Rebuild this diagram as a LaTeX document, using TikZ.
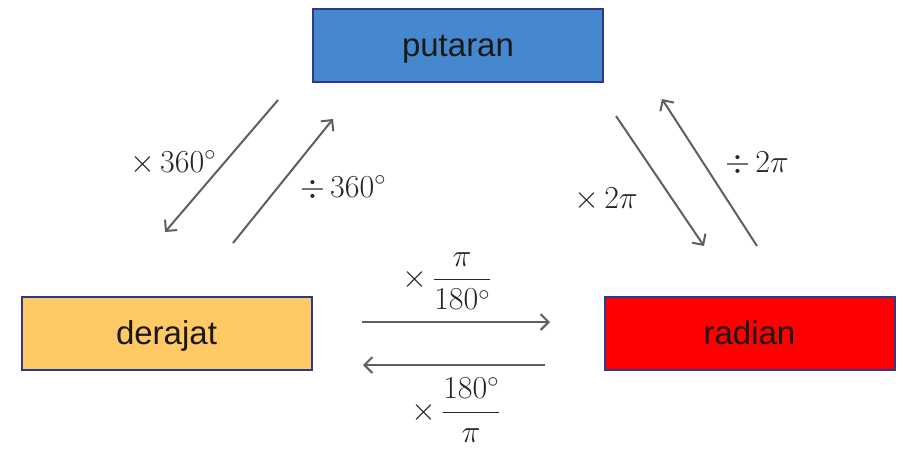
\RequirePackage{fix-cm}
\documentclass[tikz,border=0pt]{standalone}
\usepackage{amsmath}
\usepackage{fontspec}
\setsansfont{Liberation Sans}
\usetikzlibrary{arrows.meta}
\definecolor{boxline}{HTML}{2E3A87}
\definecolor{blueF}{HTML}{4688CD}
\definecolor{yellowF}{HTML}{FFC965}
\definecolor{redF}{HTML}{FF0000}
\definecolor{arrowC}{HTML}{5F5F5F}
\tikzset{
  unitbox/.style={draw=boxline, line width=2pt, minimum width=290pt, minimum height=73pt,
    inner sep=0pt, text height=23pt, text depth=0pt,
    font=\sffamily\fontsize{33}{38}\selectfont, text=black!90},
  conv/.style={draw=arrowC, line width=2pt, -{Straight Barb[length=8pt,width=16pt,line width=2pt]}},
  lbl/.style={inner sep=0pt, font=\fontsize{32}{38}\selectfont, text=black!85}
}
\begin{document}
\begin{tikzpicture}[x=1pt,y=-1pt]
\useasboundingbox (0,0) rectangle (903,448);
% boxes
\node[unitbox, fill=blueF] (put) at (458,45) {putaran};
\node[unitbox, fill=yellowF] (der) at (166.5,333) {derajat};
\node[unitbox, fill=redF] (rad) at (749.5,333) {radian};
% arrow endpoints
\coordinate (a1s) at (278,100); \coordinate (a1e) at (165,232);
\coordinate (a2s) at (233,243); \coordinate (a2e) at (333,119);
\coordinate (a3s) at (616,116); \coordinate (a3e) at (704,246);
\coordinate (a4s) at (757,246); \coordinate (a4e) at (662,99);
\coordinate (a5s) at (362,322); \coordinate (a5e) at (550,322);
\coordinate (a6s) at (545,365); \coordinate (a6e) at (363,365);
\draw[conv] (a1s) -- (a1e);
\draw[conv] (a2s) -- (a2e);
\draw[conv] (a3s) -- (a3e);
\draw[conv] (a4s) -- (a4e);
\draw[conv] (a5s) -- (a5e);
\draw[conv] (a6s) -- (a6e);
% labels
\node[lbl] (l1) at (173,163) {$\times\,360^\circ$};
\node[lbl] (l2) at (343,188) {$\div\,360^\circ$};
\node[lbl] (l3) at (606,200) {$\times\,2\pi$};
\node[lbl] (l4) at (757,164) {$\div\,2\pi$};
\node[lbl] (l5) at (447,281) {$\times\,\dfrac{\pi}{180^\circ}$};
\node[lbl] (l6) at (456,410) {$\times\,\dfrac{180^\circ}{\pi}$};
\end{tikzpicture}
\end{document}
